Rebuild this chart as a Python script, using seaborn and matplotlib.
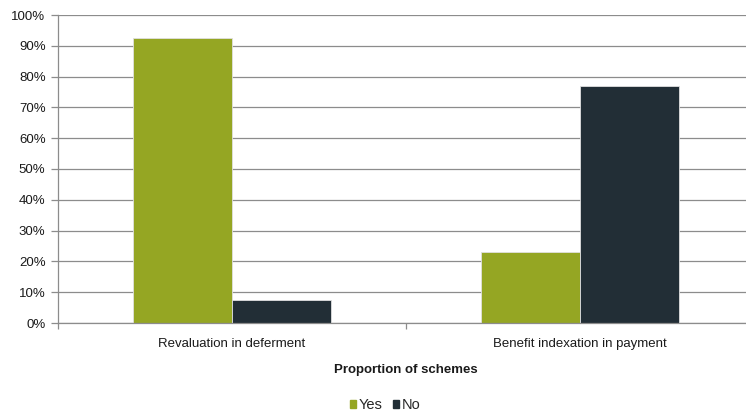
import matplotlib
matplotlib.use("Agg")
import matplotlib.pyplot as plt
from matplotlib.ticker import FixedLocator, PercentFormatter
import seaborn as sns
import pandas as pd

categories = ["Revaluation in deferment", "Benefit indexation in payment"]
answers = ["Yes", "No"]
yes_share = [92.5, 23.0]
no_share = [7.5, 77.0]

colors = {"Yes": "#95a623", "No": "#222e36"}

df = pd.DataFrame({
    "category": categories * 2,
    "answer": [answers[0]] * len(categories) + [answers[1]] * len(categories),
    "share": yes_share + no_share,
})

sns.set_theme(style="white")
plt.rcParams["font.family"] = ["Liberation Sans", "DejaVu Sans"]

FS = 9.5
fig = plt.figure(figsize=(7.46, 4.13), dpi=100)
W, H = 746, 413
ax = fig.add_axes([58 / W, 1 - 323 / H, 696 / W, 308 / H])

sns.barplot(data=df, x="category", y="share", hue="answer", hue_order=answers,
            palette=colors, width=0.57, gap=0, saturation=1, ax=ax,
            edgecolor="#e0e0e0", linewidth=0.6, legend=True)

ax.set_xlim(-0.5, 1.5)
ax.set_ylim(0, 100)
ax.yaxis.set_major_locator(FixedLocator(range(0, 101, 10)))
ax.yaxis.set_major_formatter(PercentFormatter(decimals=0))
ax.grid(axis="y", color="#8c8c8c", linewidth=0.9)
ax.set_axisbelow(True)

for side in ["top", "right"]:
    ax.spines[side].set_visible(False)
for side in ["left", "bottom"]:
    ax.spines[side].set_color("#8c8c8c")
    ax.spines[side].set_linewidth(0.9)

ax.set_xticks([0, 1])
ax.set_xticklabels(categories)
ax.xaxis.set_minor_locator(FixedLocator([-0.5, 0.5, 1.5]))
ax.tick_params(axis="x", which="major", length=0, pad=11, labelsize=FS, labelcolor="#1a1a1a")
ax.tick_params(axis="x", which="minor", length=4, width=0.9, color="#8c8c8c", direction="out", bottom=True)
ax.tick_params(axis="y", length=5, width=0.9, color="#8c8c8c", direction="out", left=True,
               labelsize=FS, labelcolor="#1a1a1a", pad=4)

ax.set_ylabel("")
ax.set_xlabel("Proportion of schemes", fontsize=FS, fontweight="bold", color="#1a1a1a")
ax.xaxis.set_label_coords(0.5, -(370 - 323) / 308)
ax.xaxis.label.set_verticalalignment("center")

ax.legend_.remove()
handles = [plt.Rectangle((0, 0), 1, 1, color=colors[a]) for a in answers]
fig.legend(handles, answers, loc="center", bbox_to_anchor=(385 / W, 1 - 405 / H),
           ncol=2, frameon=False, fontsize=10.5, handlelength=0.42, handleheight=0.42,
           handletextpad=0.2, columnspacing=0.7)

fig.savefig("out.png", dpi=100)
